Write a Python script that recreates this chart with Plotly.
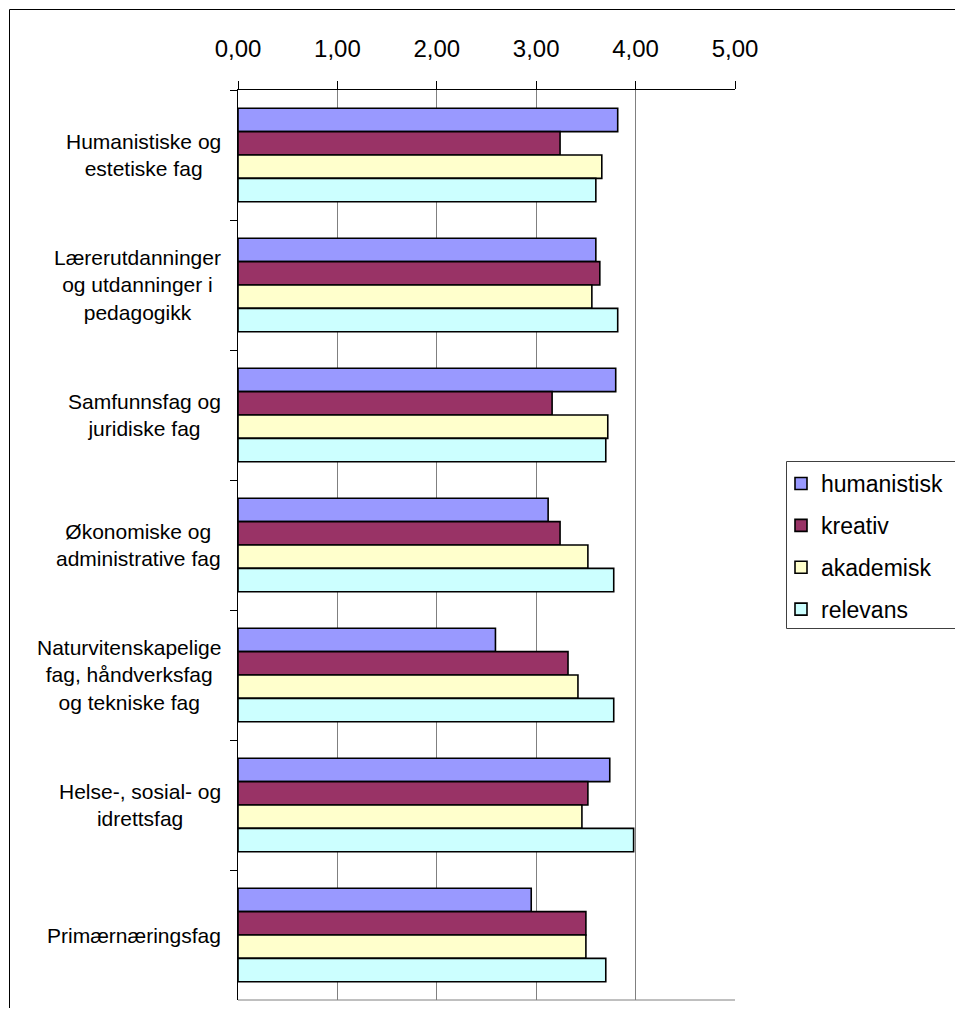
import plotly.graph_objects as go

categories = [
    "Humanistiske og<br>estetiske fag",
    "Lærerutdanninger<br>og utdanninger i<br>pedagogikk",
    "Samfunnsfag og<br>juridiske fag",
    "Økonomiske og<br>administrative fag",
    "Naturvitenskapelige<br>fag, håndverksfag<br>og tekniske fag",
    "Helse-, sosial- og<br>idrettsfag",
    "Primærnæringsfag",
]
humanistisk = [3.82, 3.60, 3.80, 3.12, 2.59, 3.74, 2.95]
kreativ     = [3.24, 3.64, 3.16, 3.24, 3.32, 3.52, 3.50]
akademisk   = [3.66, 3.56, 3.72, 3.52, 3.42, 3.46, 3.50]
relevans    = [3.60, 3.82, 3.70, 3.78, 3.78, 3.98, 3.70]
series_names = ["humanistisk", "kreativ", "akademisk", "relevans"]
series_values = [humanistisk, kreativ, akademisk, relevans]
colors = ["#9999FF", "#993366", "#FFFFCC", "#CCFFFF"]
tick_values = [0, 1, 2, 3, 4, 5]
tick_labels = ["0,00", "1,00", "2,00", "3,00", "4,00", "5,00"]

# page has an 8px body margin; figure sized to fill the page
OFF = 8
W, H = 963 - OFF, 1016 - 2 * OFF
# plot area in page pixels
PL, PR, PT, PB = 238, 735, 90, 1000
L, R, T, B = PL - OFF, PR - OFF, PT - OFF, PB - OFF

def px_x(p):  # page px -> paper
    return (p - OFF - L) / (R - L)

def px_y(p):
    return 1 - (p - OFF - T) / (B - T)

fig = go.Figure()
for name, vals, col in zip(series_names, series_values, colors):
    fig.add_trace(go.Bar(
        y=categories, x=vals, orientation="h", name=name,
        legendgroup=name,
        marker=dict(color=col, line=dict(color="black", width=1.6)),
    ))

annotations = []
for c in categories:
    annotations.append(dict(
        x=px_x(223), xref="paper", y=c, yref="y", text=c,
        xanchor="right", yanchor="middle", align="center", showarrow=False,
        font=dict(family="Liberation Sans, Arial", size=21, color="black"),
    ))

shapes = [
    # outer chart border
    dict(type="rect", xref="paper", yref="paper",
         x0=px_x(9.5), x1=px_x(990), y0=px_y(1040), y1=px_y(9.5),
         line=dict(color="black", width=1), fillcolor="rgba(0,0,0,0)", layer="below"),
    # bottom plot-area border
    dict(type="line", xref="paper", yref="paper",
         x0=0, x1=1, y0=0, y1=0, line=dict(color="#808080", width=1), layer="below"),
    # legend box
    dict(type="rect", xref="paper", yref="paper",
         x0=px_x(786.5), x1=px_x(990), y0=px_y(628.5), y1=px_y(461.5),
         line=dict(color="#404040", width=1), fillcolor="white", layer="below"),
]

fig.update_layout(
    width=W, height=H,
    margin=dict(l=L, r=W - R, t=T, b=H - B, pad=0),
    paper_bgcolor="white", plot_bgcolor="white",
    barmode="group", bargap=0.28, bargroupgap=0,
    font=dict(family="Liberation Sans, Arial", color="black"),
    showlegend=True,
    legend=dict(
        x=px_x(781), y=px_y(462), xanchor="left", yanchor="top",
        borderwidth=0, bgcolor="rgba(0,0,0,0)",
        font=dict(size=23, color="black"),
        traceorder="grouped", tracegroupgap=9,
        itemwidth=30,
    ),
    annotations=annotations,
    shapes=shapes,
    xaxis=dict(
        side="top", range=[0, 5], tickvals=tick_values, ticktext=tick_labels,
        showgrid=True, gridcolor="#808080", gridwidth=1,
        showline=True, linecolor="black", linewidth=1,
        ticks="outside", ticklen=8, tickcolor="black",
        tickfont=dict(size=24, color="black"),
        ticklabelstandoff=14,
        zeroline=False, fixedrange=True,
    ),
    yaxis=dict(
        autorange="reversed", type="category",
        showticklabels=False,
        ticks="outside", ticklen=7, tickcolor="black", tickson="boundaries",
        showline=True, linecolor="black", linewidth=1,
        showgrid=False, zeroline=False, fixedrange=True,
    ),
)

fig.write_html("out.html")
